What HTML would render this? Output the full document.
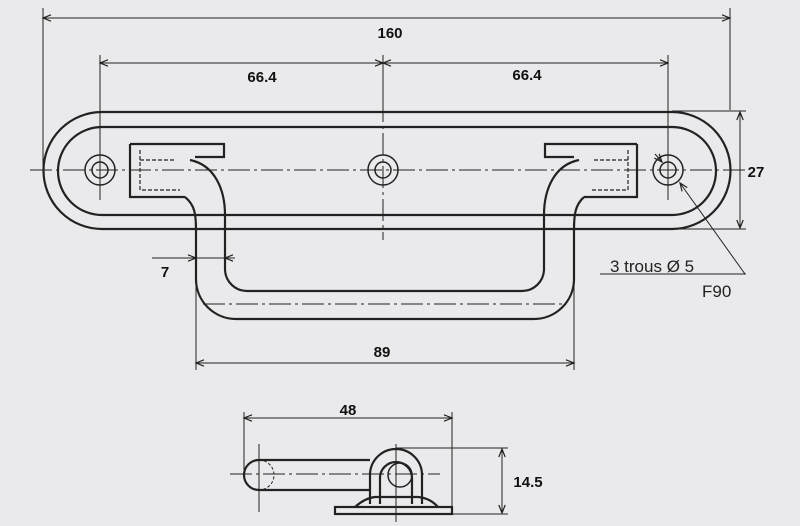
<!DOCTYPE html>
<html><head><meta charset="utf-8"><style>
html,body{margin:0;padding:0;background:#eaeaec;}
svg{display:block}
text{font-family:"Liberation Sans",sans-serif;}
</style></head><body>
<svg width="800" height="526" viewBox="0 0 800 526" xmlns="http://www.w3.org/2000/svg">
<defs>
<marker id="a" viewBox="0 0 10 10" refX="10" refY="5" markerWidth="11" markerHeight="8" orient="auto-start-reverse" markerUnits="userSpaceOnUse"><path d="M0,1 L10,5 L0,9" fill="none" stroke="#222" stroke-width="1.5"/></marker>
</defs>
<g fill="none" stroke="#222" stroke-width="2.2">
<path d="M102,112 H672 A58,58 0 0 1 672,229 H102 A58.5,58.5 0 0 1 102,112 Z"/>
<path d="M102,127 H672 A44,44 0 0 1 672,215 H102 A44,44 0 0 1 102,127 Z"/>
<circle cx="100" cy="170" r="15" stroke-width="1.5"/><circle cx="100" cy="170" r="8" stroke-width="1.5"/>
<circle cx="383" cy="170" r="15" stroke-width="1.5"/><circle cx="383" cy="170" r="8" stroke-width="1.5"/>
<circle cx="668" cy="170" r="15" stroke-width="1.5"/><circle cx="668" cy="170" r="8" stroke-width="1.5"/>
<path d="M130,144 H224 V157 H195 M130,144 V197 H185" />
<path d="M637,144 H545 V157 H574 M637,144 V197 H584" />
<path d="M185,197 C195,205 196,215 196,230 V280 A40,40 0 0 0 236,319 H534 A40,40 0 0 0 574,280 V230 C574,215 575,205 584,197"/>
<path d="M190,160 C215,165 225,190 225,215 V270 A22,22 0 0 0 247,291 H522 A22,22 0 0 0 544,270 V215 C544,190 554,165 579,160"/>
</g>
<g fill="none" stroke="#222" stroke-width="1.2" stroke-dasharray="4,2">
<path d="M140,150 V190 H180 M140,160 H175"/>
<path d="M628,150 V190 H590 M628,160 H594"/>
</g>
<g stroke="#222" stroke-width="1" stroke-dasharray="22,4,3,4">
<line x1="30" y1="170" x2="745" y2="170"/>
<line x1="203" y1="304" x2="562" y2="304"/>
<line x1="383" y1="100" x2="383" y2="240"/>
<line x1="230" y1="474" x2="440" y2="474"/>
</g>
<g stroke="#222" stroke-width="1" fill="none">
<line x1="43" y1="8" x2="43" y2="172"/><line x1="730" y1="8" x2="730" y2="110"/>
<line x1="43" y1="18" x2="730" y2="18" marker-start="url(#a)" marker-end="url(#a)"/>
<line x1="100" y1="55" x2="100" y2="200"/><line x1="668" y1="55" x2="668" y2="200"/>
<line x1="383" y1="55" x2="383" y2="100"/>
<line x1="100" y1="63" x2="383" y2="63" marker-start="url(#a)" marker-end="url(#a)"/>
<line x1="383" y1="63" x2="668" y2="63" marker-start="url(#a)" marker-end="url(#a)"/>
<line x1="672" y1="111" x2="746" y2="111"/><line x1="672" y1="229" x2="746" y2="229"/>
<line x1="740" y1="112" x2="740" y2="228" marker-start="url(#a)" marker-end="url(#a)"/>
<line x1="196" y1="280" x2="196" y2="370"/><line x1="574" y1="280" x2="574" y2="370"/>
<line x1="196" y1="363" x2="574" y2="363" marker-start="url(#a)" marker-end="url(#a)"/>
<line x1="152" y1="258" x2="196" y2="258" marker-end="url(#a)"/>
<line x1="235" y1="258" x2="225" y2="258" marker-end="url(#a)"/>
<line x1="196" y1="258" x2="225" y2="258"/>
<line x1="745" y1="274" x2="680" y2="183" marker-end="url(#a)"/>
<line x1="655" y1="154" x2="662" y2="162" marker-end="url(#a)"/>
<line x1="600" y1="274" x2="746" y2="274"/>
<line x1="244" y1="412" x2="244" y2="470"/><line x1="452" y1="412" x2="452" y2="515"/>
<line x1="244" y1="418" x2="452" y2="418" marker-start="url(#a)" marker-end="url(#a)"/>
<line x1="396" y1="448" x2="508" y2="448"/><line x1="452" y1="514" x2="508" y2="514"/>
<line x1="502" y1="449" x2="502" y2="513" marker-start="url(#a)" marker-end="url(#a)"/>
<line x1="396" y1="444" x2="396" y2="522"/>
<line x1="259" y1="444" x2="259" y2="512"/>
</g>
<g fill="none" stroke="#222" stroke-width="2.2">
<path d="M370,460 H259 A15,15 0 0 0 259,490 H370"/>
<path d="M370,504 V475 A26,26 0 0 1 422,475 V504"/>
<path d="M380,504 V478 A16,16 0 0 1 412,478 V504"/>
<circle cx="400" cy="475" r="12" stroke-width="1.5"/>
<path d="M355,507 Q365,498 375,497 H418 Q430,498 438,507"/>
<rect x="335" y="507" width="117" height="7"/>
</g>
<path d="M259,460 A15,15 0 0 1 259,490" fill="none" stroke="#222" stroke-width="1" stroke-dasharray="3,2"/>
<g font-size="15" font-weight="bold" fill="#111" text-anchor="middle">
<text x="390" y="38">160</text>
<text x="262" y="82">66.4</text>
<text x="527" y="80">66.4</text>
<text x="756" y="177">27</text>
<text x="165" y="277">7</text>
<text x="382" y="357">89</text>
<text x="348" y="415">48</text>
<text x="528" y="487">14.5</text>
</g>
<g font-size="17" fill="#222">
<text x="610" y="272">3 trous Ø  5</text>
<text x="702" y="297">F90</text>
</g>
</svg>
</body></html>
